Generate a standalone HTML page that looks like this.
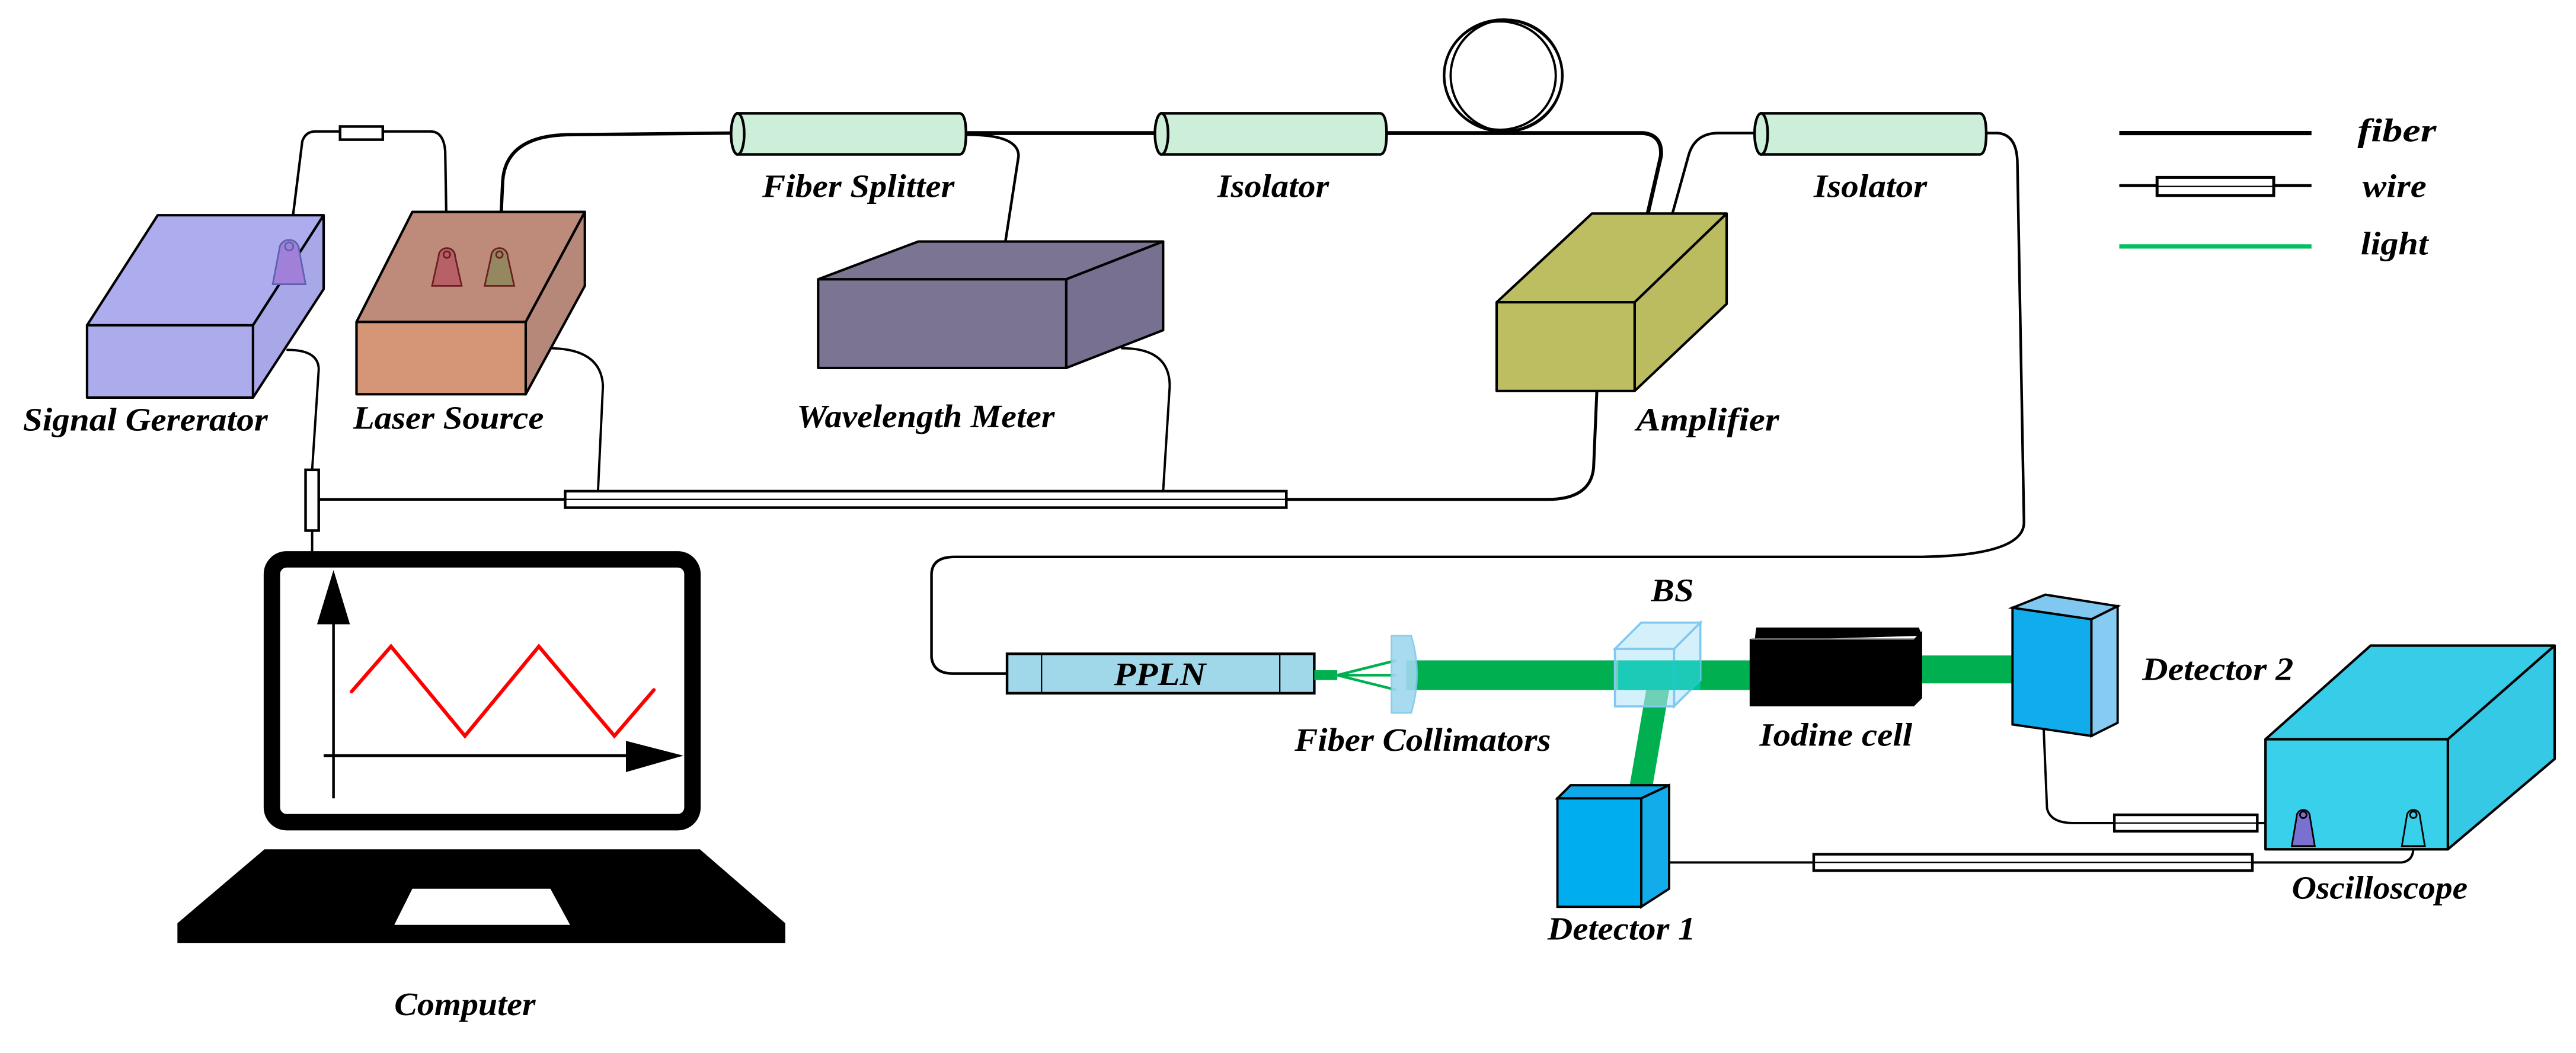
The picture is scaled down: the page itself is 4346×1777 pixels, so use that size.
<!DOCTYPE html>
<html><head><meta charset="utf-8"><style>
html,body{margin:0;padding:0;background:#fff;}
svg{display:block;}
text{font-family:"Liberation Serif",serif;font-weight:bold;font-style:italic;fill:#000;}
</style></head><body>
<svg width="4346" height="1777" viewBox="0 0 1568 641" preserveAspectRatio="none" xmlns="http://www.w3.org/2000/svg">
<rect width="1568" height="641" fill="#fff"/>
<g fill="none" stroke="#000" stroke-linecap="round" stroke-linejoin="round">
<path d="M176 150 L184 86 Q186 80 192 80 L262 80 Q270 80 271 92 L272 152" stroke-width="1.5"/>
<path d="M304 152 L306 110 Q308 83 345 82 L445 81" stroke-width="2"/>
<path d="M587 81 L703 81" stroke-width="2.4"/>
<path d="M589 82 Q620 82 620 95 L612 147" stroke-width="1.6"/>
<path d="M843 81 L1000 81 Q1012 82 1011 95 L1003 130" stroke-width="2.4"/>
<ellipse cx="915" cy="46" rx="36" ry="34" stroke-width="1.6"/>
<ellipse cx="913" cy="46" rx="34" ry="33" stroke-width="1.4"/>
<ellipse cx="917" cy="46" rx="34" ry="34" stroke-width="1.4"/>
<path d="M1018 130 L1028 94 Q1032 81 1046 81 L1068 81" stroke-width="1.6"/>
<path d="M1207 81 L1216 81 Q1228 82 1228 100 L1232 318 Q1232 338 1170 339 L581 339 Q567 339 567 350 L567 400 Q568 410 580 410 L613 410" stroke-width="1.6"/>
<path d="M175 213 Q194 213 194 225 L190 286" stroke-width="1.4"/>
<path d="M334 212 Q366 212 367 235 L364 299" stroke-width="1.4"/>
<path d="M683 212 Q712 212 712 235 L708 299" stroke-width="1.4"/>
<path d="M972 238 L970 285 Q968 304 942 304 L783 304" stroke-width="1.8"/>
<path d="M195 304 L344 304" stroke-width="1.6"/>
<path d="M190 323 L190 336" stroke-width="1.4"/>
<path d="M1244 444 L1246 492 Q1248 501 1262 501 L1287 501" stroke-width="1.4"/>
<path d="M1374 501 L1402 501" stroke-width="1.4"/>
<path d="M1016 525 L1104 525" stroke-width="1.4"/>
<path d="M1371 525 L1462 525 Q1469 524 1469 516" stroke-width="1.4"/>
</g>
<g fill="#fff" stroke="#000" stroke-width="1.6">
<rect x="207" y="77" width="26" height="8"/>
<rect x="186" y="286" width="8" height="37"/>
<rect x="344" y="299" width="439" height="10"/>
<line x1="344" y1="304" x2="783" y2="304" stroke-width="0.8"/>
<rect x="1287" y="496" width="87" height="10"/>
<rect x="1104" y="520" width="267" height="10"/>
<line x1="1104" y1="525" x2="1371" y2="525" stroke-width="0.8"/>
<line x1="1287" y1="501" x2="1374" y2="501" stroke-width="0.8"/>
</g>
<g stroke="#000" stroke-width="1.5" stroke-linejoin="round">
<polygon points="96,131 197,131 154,198 53,198" fill="#acacee"/>
<polygon points="197,131 197,176 154,242 154,198" fill="#a8a8e8"/>
<rect x="53" y="198" width="101" height="44" fill="#acacec"/>
<polygon points="251,129 356,129 320,196 217,196" fill="#be8b7a"/>
<polygon points="356,129 356,174 320,240 320,196" fill="#b6887a"/>
<rect x="217" y="196" width="103" height="44" fill="#d49676"/>
<polygon points="559,147 708,147 649,170 498,170" fill="#7b7593"/>
<polygon points="708,147 708,201 649,224 649,170" fill="#777090"/>
<rect x="498" y="170" width="151" height="54" fill="#7b7593"/>
<polygon points="969,130 1051,130 995,184 911,184" fill="#bdbd62"/>
<polygon points="1051,130 1051,185 995,238 995,184" fill="#bbbb60"/>
<rect x="911" y="184" width="84" height="54" fill="#bdbd62"/>
<polygon points="1443,393 1555,393 1490,450 1379,450" fill="#37cde8"/>
<polygon points="1555,393 1555,462 1490,517 1490,450" fill="#35c9e6"/>
<rect x="1379" y="450" width="111" height="67" fill="#38d0ea"/>
</g>
<g stroke-width="1">
<path d="M166 173 L186 173 L182 152 A6 6 0 0 0 170 152 Z" fill="#a080d8" stroke="#6060b0"/>
<circle cx="176" cy="150" r="2.5" fill="none" stroke="#6060b0"/>
<path d="M263 174 L281 174 L277 156 A5 5 0 0 0 267 156 Z" fill="#b86068" stroke="#6a2020"/>
<circle cx="272" cy="155" r="2" fill="none" stroke="#6a2020"/>
<path d="M295 174 L313 174 L309 156 A5 5 0 0 0 299 156 Z" fill="#958860" stroke="#6a2020"/>
<circle cx="304" cy="155" r="2" fill="none" stroke="#6a2020"/>
<path d="M1395 515 L1409 515 L1406 497 A4 4 0 0 0 1398 497 Z" fill="#7a70d0" stroke="#000"/>
<circle cx="1402" cy="496" r="2" fill="none" stroke="#000"/>
<path d="M1462 515 L1476 515 L1473 497 A4 4 0 0 0 1465 497 Z" fill="none" stroke="#000"/>
<circle cx="1469" cy="496" r="2" fill="none" stroke="#000"/>
</g>
<g stroke="#000" stroke-width="1.6" fill="#cdeed9">
<path d="M449 69 L584 69 Q588 69 588 81.5 Q588 94 584 94 L449 94 Z"/>
<ellipse cx="449" cy="81.5" rx="4" ry="12.5"/>
<path d="M707 69 L840 69 Q844 69 844 81.5 Q844 94 840 94 L707 94 Z"/>
<ellipse cx="707" cy="81.5" rx="4" ry="12.5"/>
<path d="M1072 69 L1205 69 Q1209 69 1209 81.5 Q1209 94 1205 94 L1072 94 Z"/>
<ellipse cx="1072" cy="81.5" rx="4" ry="12.5"/>
</g>
<line x1="1290" y1="81" x2="1407" y2="81" stroke="#000" stroke-width="2.6"/>
<line x1="1290" y1="113" x2="1407" y2="113" stroke="#000" stroke-width="1.8"/>
<rect x="1313" y="108" width="71" height="11" fill="#fff" stroke="#000" stroke-width="1.8"/>
<line x1="1313" y1="113.5" x2="1384" y2="113.5" stroke="#000" stroke-width="0.8"/>
<line x1="1290" y1="150" x2="1407" y2="150" stroke="#00c060" stroke-width="2.6"/>
<rect x="613" y="398" width="187" height="24" fill="#a0d8ea" stroke="#000" stroke-width="1.6"/>
<line x1="634" y1="398" x2="634" y2="422" stroke="#000" stroke-width="0.8"/>
<line x1="779" y1="398" x2="779" y2="422" stroke="#000" stroke-width="0.8"/>
<rect x="800" y="408" width="14" height="6" fill="#00b050"/>
<g stroke="#00b050" stroke-width="1.6" fill="none">
<path d="M814 411 L850 402 M814 411 L850 411 M814 411 L850 420"/>
</g>
<rect x="856" y="402" width="210" height="18" fill="#00b050"/>
<rect x="1166" y="399" width="59" height="17" fill="#00b050"/>
<polygon points="1002,420 1016,420 1006,478 992,478" fill="#00b050"/>
<path d="M847 387 L859 387 Q866 410 859 434 L847 434 Z" fill="#9fd8ef" stroke="#80c8e8" stroke-width="1" opacity="0.9"/>
<g stroke="#7fc9f0" stroke-width="1.3" fill="#b8e6f6" fill-opacity="0.6">
<polygon points="983,395 999,379 1035,379 1019,395"/>
<polygon points="1019,395 1035,379 1035,414 1019,430"/>
<rect x="983" y="395" width="36" height="35"/>
</g>
<rect x="985" y="402" width="50" height="18" fill="#00c8b8" opacity="0.75"/>
<polygon points="1069,382 1168,382 1170,387 1068,390" fill="#000"/>
<rect x="1065" y="389" width="100" height="41" fill="#000"/>
<polygon points="1165,389 1170,384 1170,425 1165,430" fill="#000"/>
<line x1="1066" y1="389" x2="1165" y2="389" stroke="#888" stroke-width="0.8"/>
<polygon points="1225,370 1245,362 1289,369 1273,377" fill="#80c8f0" stroke="#000" stroke-width="1.4"/>
<polygon points="1273,377 1289,369 1289,440 1273,448" fill="#86ccf2" stroke="#000" stroke-width="1.4"/>
<polygon points="1225,370 1273,377 1273,448 1225,441" fill="#10acec" stroke="#000" stroke-width="1.4"/>
<polygon points="948,486 956,478 1016,478 999,486" fill="#0ea8e8" stroke="#000" stroke-width="1.4"/>
<polygon points="999,486 1016,478 1016,541 999,552" fill="#12aceb" stroke="#000" stroke-width="1.4"/>
<rect x="948" y="486" width="51" height="66" fill="#00aef0" stroke="#000" stroke-width="1.4"/>
<rect x="165.5" y="340.5" width="256" height="160" rx="9" fill="#fff" stroke="#000" stroke-width="10"/>
<line x1="203" y1="378" x2="203" y2="486" stroke="#000" stroke-width="1.6"/>
<polygon points="203,347 193,380 213,380" fill="#000"/>
<line x1="197" y1="460" x2="383" y2="460" stroke="#000" stroke-width="1.8"/>
<polygon points="416,460 381,451 381,470" fill="#000"/>
<polyline points="214,421 238,393.5 283,448 328,393.5 374,448 398,420" fill="none" stroke="#f00" stroke-width="2.2" stroke-linecap="round" stroke-linejoin="miter"/>
<polygon points="161,517 426,517 478,562 478,574 108,574 108,562" fill="#000"/>
<polygon points="251,541 335,541 347,563 240,563" fill="#fff"/>
<g font-size="20">
<text x="14" y="262" textLength="149" lengthAdjust="spacingAndGlyphs">Signal Gererator</text>
<text x="215" y="261" textLength="116" lengthAdjust="spacingAndGlyphs">Laser Source</text>
<text x="485" y="260" textLength="157" lengthAdjust="spacingAndGlyphs">Wavelength Meter</text>
<text x="464" y="120" textLength="117" lengthAdjust="spacingAndGlyphs">Fiber Splitter</text>
<text x="741" y="120" textLength="68" lengthAdjust="spacingAndGlyphs">Isolator</text>
<text x="1104" y="120" textLength="69" lengthAdjust="spacingAndGlyphs">Isolator</text>
<text x="996" y="262" textLength="87" lengthAdjust="spacingAndGlyphs">Amplifier</text>
<text x="1435" y="86" textLength="48" lengthAdjust="spacingAndGlyphs">fiber</text>
<text x="1438" y="120" textLength="39" lengthAdjust="spacingAndGlyphs">wire</text>
<text x="1437" y="155" textLength="41" lengthAdjust="spacingAndGlyphs">light</text>
<text x="678" y="417" textLength="56" lengthAdjust="spacingAndGlyphs">PPLN</text>
<text x="1005" y="366" textLength="26" lengthAdjust="spacingAndGlyphs">BS</text>
<text x="788" y="457" textLength="156" lengthAdjust="spacingAndGlyphs">Fiber Collimators</text>
<text x="1071" y="454" textLength="93" lengthAdjust="spacingAndGlyphs">Iodine cell</text>
<text x="1304" y="414" textLength="92" lengthAdjust="spacingAndGlyphs">Detector 2</text>
<text x="1395" y="547" textLength="107" lengthAdjust="spacingAndGlyphs">Oscilloscope</text>
<text x="942" y="572" textLength="90" lengthAdjust="spacingAndGlyphs">Detector 1</text>
<text x="240" y="618" textLength="86" lengthAdjust="spacingAndGlyphs">Computer</text>
</g>
</svg>
</body></html>
